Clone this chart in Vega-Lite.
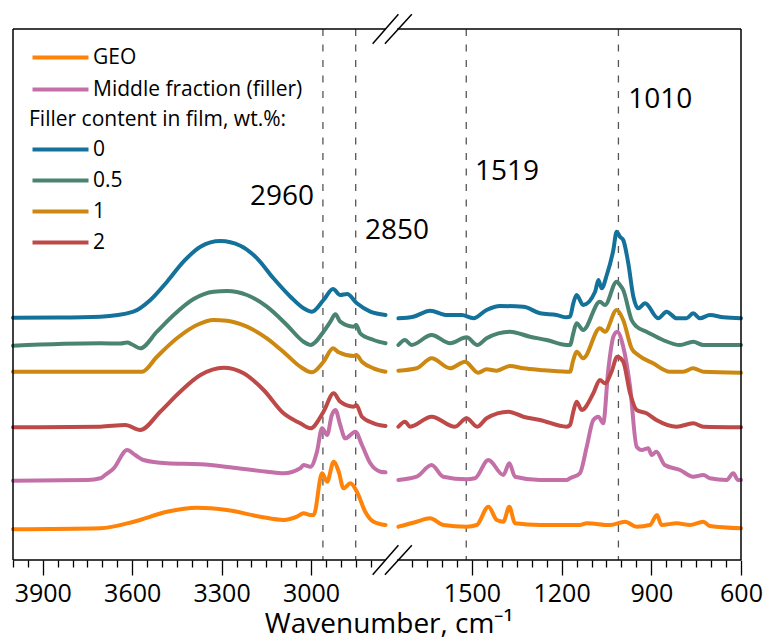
{
  "$schema": "https://vega.github.io/schema/vega-lite/v6.json",
  "width": 728,
  "height": 531,
  "autosize": {"type": "none"},
  "padding": {"left": 13, "top": 29, "right": 23, "bottom": 79},
  "background": "white",
  "config": {"view": {"stroke": null}, "font": "Open Sans"},
  "datasets": {
    "reference": [
      {"s": "GEO", "seg": "L", "wn": 4000, "a": 30.7}, {"s": "GEO", "seg": "L", "wn": 3707, "a": 31.7}, {"s": "GEO", "seg": "L", "wn": 3595, "a": 38.3}, {"s": "GEO", "seg": "L", "wn": 3483, "a": 48.3}, {"s": "GEO", "seg": "L", "wn": 3383, "a": 52.3}, {"s": "GEO", "seg": "L", "wn": 3282, "a": 50}, {"s": "GEO", "seg": "L", "wn": 3170, "a": 43.3}, {"s": "GEO", "seg": "L", "wn": 3092, "a": 40}, {"s": "GEO", "seg": "L", "wn": 3047, "a": 43.3}, {"s": "GEO", "seg": "L", "wn": 3025, "a": 46.7}, {"s": "GEO", "seg": "L", "wn": 3002, "a": 45}, {"s": "GEO", "seg": "L", "wn": 2991, "a": 45}, {"s": "GEO", "seg": "L", "wn": 2963, "a": 86.7}, {"s": "GEO", "seg": "L", "wn": 2946, "a": 78.3}, {"s": "GEO", "seg": "L", "wn": 2924, "a": 98.3}, {"s": "GEO", "seg": "L", "wn": 2907, "a": 88.3}, {"s": "GEO", "seg": "L", "wn": 2891, "a": 71.7}, {"s": "GEO", "seg": "L", "wn": 2868, "a": 76.7}, {"s": "GEO", "seg": "L", "wn": 2846, "a": 68.3}, {"s": "GEO", "seg": "L", "wn": 2818, "a": 48.3}, {"s": "GEO", "seg": "L", "wn": 2790, "a": 38.3}, {"s": "GEO", "seg": "L", "wn": 2750, "a": 35},
      {"s": "GEO", "seg": "R", "wn": 1746, "a": 33.3}, {"s": "GEO", "seg": "R", "wn": 1685, "a": 38.3}, {"s": "GEO", "seg": "R", "wn": 1640, "a": 41.7}, {"s": "GEO", "seg": "R", "wn": 1596, "a": 35}, {"s": "GEO", "seg": "R", "wn": 1518, "a": 33.3}, {"s": "GEO", "seg": "R", "wn": 1484, "a": 35}, {"s": "GEO", "seg": "R", "wn": 1445, "a": 53.3}, {"s": "GEO", "seg": "R", "wn": 1417, "a": 40}, {"s": "GEO", "seg": "R", "wn": 1395, "a": 38.3}, {"s": "GEO", "seg": "R", "wn": 1375, "a": 53.3}, {"s": "GEO", "seg": "R", "wn": 1356, "a": 36.7}, {"s": "GEO", "seg": "R", "wn": 1272, "a": 35}, {"s": "GEO", "seg": "R", "wn": 1139, "a": 35}, {"s": "GEO", "seg": "R", "wn": 1116, "a": 36.7}, {"s": "GEO", "seg": "R", "wn": 1038, "a": 35}, {"s": "GEO", "seg": "R", "wn": 988, "a": 38.3}, {"s": "GEO", "seg": "R", "wn": 949, "a": 33.3}, {"s": "GEO", "seg": "R", "wn": 905, "a": 35}, {"s": "GEO", "seg": "R", "wn": 881, "a": 45}, {"s": "GEO", "seg": "R", "wn": 866, "a": 35}, {"s": "GEO", "seg": "R", "wn": 815, "a": 36.7}, {"s": "GEO", "seg": "R", "wn": 771, "a": 35}, {"s": "GEO", "seg": "R", "wn": 726, "a": 38.3}, {"s": "GEO", "seg": "R", "wn": 704, "a": 34}, {"s": "GEO", "seg": "R", "wn": 600, "a": 31.7},
      {"s": "Middle fraction (filler)", "seg": "L", "wn": 4000, "a": 79.3}, {"s": "Middle fraction (filler)", "seg": "L", "wn": 3750, "a": 80}, {"s": "Middle fraction (filler)", "seg": "L", "wn": 3707, "a": 81.7}, {"s": "Middle fraction (filler)", "seg": "L", "wn": 3691, "a": 85}, {"s": "Middle fraction (filler)", "seg": "L", "wn": 3662, "a": 91.7}, {"s": "Middle fraction (filler)", "seg": "L", "wn": 3617, "a": 110}, {"s": "Middle fraction (filler)", "seg": "L", "wn": 3590, "a": 105}, {"s": "Middle fraction (filler)", "seg": "L", "wn": 3562, "a": 100}, {"s": "Middle fraction (filler)", "seg": "L", "wn": 3483, "a": 96.7}, {"s": "Middle fraction (filler)", "seg": "L", "wn": 3371, "a": 95.7}, {"s": "Middle fraction (filler)", "seg": "L", "wn": 3260, "a": 92.3}, {"s": "Middle fraction (filler)", "seg": "L", "wn": 3148, "a": 88.3}, {"s": "Middle fraction (filler)", "seg": "L", "wn": 3092, "a": 86.7}, {"s": "Middle fraction (filler)", "seg": "L", "wn": 3036, "a": 91.7}, {"s": "Middle fraction (filler)", "seg": "L", "wn": 3025, "a": 95}, {"s": "Middle fraction (filler)", "seg": "L", "wn": 3002, "a": 93.3}, {"s": "Middle fraction (filler)", "seg": "L", "wn": 2980, "a": 108.3}, {"s": "Middle fraction (filler)", "seg": "L", "wn": 2963, "a": 131.7}, {"s": "Middle fraction (filler)", "seg": "L", "wn": 2946, "a": 125}, {"s": "Middle fraction (filler)", "seg": "L", "wn": 2930, "a": 145}, {"s": "Middle fraction (filler)", "seg": "L", "wn": 2918, "a": 150}, {"s": "Middle fraction (filler)", "seg": "L", "wn": 2902, "a": 135}, {"s": "Middle fraction (filler)", "seg": "L", "wn": 2885, "a": 121.7}, {"s": "Middle fraction (filler)", "seg": "L", "wn": 2851, "a": 128.3}, {"s": "Middle fraction (filler)", "seg": "L", "wn": 2829, "a": 115}, {"s": "Middle fraction (filler)", "seg": "L", "wn": 2801, "a": 96.7}, {"s": "Middle fraction (filler)", "seg": "L", "wn": 2767, "a": 88.3}, {"s": "Middle fraction (filler)", "seg": "L", "wn": 2750, "a": 87.7},
      {"s": "Middle fraction (filler)", "seg": "R", "wn": 1746, "a": 80}, {"s": "Middle fraction (filler)", "seg": "R", "wn": 1685, "a": 83.3}, {"s": "Middle fraction (filler)", "seg": "R", "wn": 1635, "a": 95}, {"s": "Middle fraction (filler)", "seg": "R", "wn": 1596, "a": 83.3}, {"s": "Middle fraction (filler)", "seg": "R", "wn": 1518, "a": 80.7}, {"s": "Middle fraction (filler)", "seg": "R", "wn": 1490, "a": 81.7}, {"s": "Middle fraction (filler)", "seg": "R", "wn": 1445, "a": 100}, {"s": "Middle fraction (filler)", "seg": "R", "wn": 1395, "a": 85}, {"s": "Middle fraction (filler)", "seg": "R", "wn": 1375, "a": 96.7}, {"s": "Middle fraction (filler)", "seg": "R", "wn": 1356, "a": 83.3}, {"s": "Middle fraction (filler)", "seg": "R", "wn": 1272, "a": 80}, {"s": "Middle fraction (filler)", "seg": "R", "wn": 1183, "a": 80}, {"s": "Middle fraction (filler)", "seg": "R", "wn": 1172, "a": 81.7}, {"s": "Middle fraction (filler)", "seg": "R", "wn": 1139, "a": 86.7}, {"s": "Middle fraction (filler)", "seg": "R", "wn": 1116, "a": 113.3}, {"s": "Middle fraction (filler)", "seg": "R", "wn": 1094, "a": 140}, {"s": "Middle fraction (filler)", "seg": "R", "wn": 1077, "a": 143.3}, {"s": "Middle fraction (filler)", "seg": "R", "wn": 1061, "a": 136.7}, {"s": "Middle fraction (filler)", "seg": "R", "wn": 1044, "a": 190}, {"s": "Middle fraction (filler)", "seg": "R", "wn": 1027, "a": 223.3}, {"s": "Middle fraction (filler)", "seg": "R", "wn": 1014, "a": 228.3}, {"s": "Middle fraction (filler)", "seg": "R", "wn": 994, "a": 213.3}, {"s": "Middle fraction (filler)", "seg": "R", "wn": 971, "a": 173.3}, {"s": "Middle fraction (filler)", "seg": "R", "wn": 949, "a": 113.3}, {"s": "Middle fraction (filler)", "seg": "R", "wn": 932, "a": 110}, {"s": "Middle fraction (filler)", "seg": "R", "wn": 910, "a": 111.7}, {"s": "Middle fraction (filler)", "seg": "R", "wn": 899, "a": 105}, {"s": "Middle fraction (filler)", "seg": "R", "wn": 883, "a": 108.3}, {"s": "Middle fraction (filler)", "seg": "R", "wn": 855, "a": 95}, {"s": "Middle fraction (filler)", "seg": "R", "wn": 804, "a": 90}, {"s": "Middle fraction (filler)", "seg": "R", "wn": 760, "a": 83.3}, {"s": "Middle fraction (filler)", "seg": "R", "wn": 726, "a": 85}, {"s": "Middle fraction (filler)", "seg": "R", "wn": 704, "a": 81.7}, {"s": "Middle fraction (filler)", "seg": "R", "wn": 648, "a": 80}, {"s": "Middle fraction (filler)", "seg": "R", "wn": 626, "a": 86.7}, {"s": "Middle fraction (filler)", "seg": "R", "wn": 610, "a": 80}, {"s": "Middle fraction (filler)", "seg": "R", "wn": 600, "a": 80}
    ],
    "films": [
      {"content": "0", "seg": "L", "wn": 4000, "a": 242.3}, {"content": "0", "seg": "L", "wn": 3850, "a": 242.5}, {"content": "0", "seg": "L", "wn": 3707, "a": 243.3}, {"content": "0", "seg": "L", "wn": 3596, "a": 248.3}, {"content": "0", "seg": "L", "wn": 3539, "a": 260}, {"content": "0", "seg": "L", "wn": 3483, "a": 278.3}, {"content": "0", "seg": "L", "wn": 3428, "a": 298.3}, {"content": "0", "seg": "L", "wn": 3371, "a": 313.3}, {"content": "0", "seg": "L", "wn": 3304, "a": 319}, {"content": "0", "seg": "L", "wn": 3237, "a": 314.3}, {"content": "0", "seg": "L", "wn": 3181, "a": 301.7}, {"content": "0", "seg": "L", "wn": 3126, "a": 281.7}, {"content": "0", "seg": "L", "wn": 3069, "a": 263.3}, {"content": "0", "seg": "L", "wn": 3025, "a": 251.7}, {"content": "0", "seg": "L", "wn": 2997, "a": 248.3}, {"content": "0", "seg": "L", "wn": 2958, "a": 260}, {"content": "0", "seg": "L", "wn": 2926, "a": 271}, {"content": "0", "seg": "L", "wn": 2902, "a": 265}, {"content": "0", "seg": "L", "wn": 2879, "a": 266}, {"content": "0", "seg": "L", "wn": 2846, "a": 256.7}, {"content": "0", "seg": "L", "wn": 2801, "a": 248.3}, {"content": "0", "seg": "L", "wn": 2750, "a": 245},
      {"content": "0", "seg": "R", "wn": 1746, "a": 241.7}, {"content": "0", "seg": "R", "wn": 1696, "a": 243.3}, {"content": "0", "seg": "R", "wn": 1640, "a": 249.3}, {"content": "0", "seg": "R", "wn": 1584, "a": 245}, {"content": "0", "seg": "R", "wn": 1534, "a": 245}, {"content": "0", "seg": "R", "wn": 1495, "a": 241.7}, {"content": "0", "seg": "R", "wn": 1451, "a": 250}, {"content": "0", "seg": "R", "wn": 1406, "a": 254}, {"content": "0", "seg": "R", "wn": 1328, "a": 253.3}, {"content": "0", "seg": "R", "wn": 1272, "a": 246.7}, {"content": "0", "seg": "R", "wn": 1217, "a": 245}, {"content": "0", "seg": "R", "wn": 1183, "a": 242.7}, {"content": "0", "seg": "R", "wn": 1172, "a": 243.3}, {"content": "0", "seg": "R", "wn": 1161, "a": 256.7}, {"content": "0", "seg": "R", "wn": 1150, "a": 265}, {"content": "0", "seg": "R", "wn": 1128, "a": 255}, {"content": "0", "seg": "R", "wn": 1088, "a": 268.3}, {"content": "0", "seg": "R", "wn": 1077, "a": 280}, {"content": "0", "seg": "R", "wn": 1066, "a": 271.7}, {"content": "0", "seg": "R", "wn": 1049, "a": 285}, {"content": "0", "seg": "R", "wn": 1027, "a": 310}, {"content": "0", "seg": "R", "wn": 1016, "a": 328.3}, {"content": "0", "seg": "R", "wn": 1005, "a": 323.3}, {"content": "0", "seg": "R", "wn": 994, "a": 320}, {"content": "0", "seg": "R", "wn": 977, "a": 296.7}, {"content": "0", "seg": "R", "wn": 960, "a": 263.3}, {"content": "0", "seg": "R", "wn": 944, "a": 251.7}, {"content": "0", "seg": "R", "wn": 921, "a": 256.7}, {"content": "0", "seg": "R", "wn": 877, "a": 241.7}, {"content": "0", "seg": "R", "wn": 849, "a": 248.3}, {"content": "0", "seg": "R", "wn": 815, "a": 241.7}, {"content": "0", "seg": "R", "wn": 782, "a": 241.7}, {"content": "0", "seg": "R", "wn": 760, "a": 246.7}, {"content": "0", "seg": "R", "wn": 737, "a": 241.7}, {"content": "0", "seg": "R", "wn": 704, "a": 245}, {"content": "0", "seg": "R", "wn": 659, "a": 242.7}, {"content": "0", "seg": "R", "wn": 600, "a": 241.7},
      {"content": "0.5", "seg": "L", "wn": 4000, "a": 214.3}, {"content": "0.5", "seg": "L", "wn": 3707, "a": 216.7}, {"content": "0.5", "seg": "L", "wn": 3640, "a": 216.5}, {"content": "0.5", "seg": "L", "wn": 3617, "a": 217.5}, {"content": "0.5", "seg": "L", "wn": 3600, "a": 215.5}, {"content": "0.5", "seg": "L", "wn": 3573, "a": 211.7}, {"content": "0.5", "seg": "L", "wn": 3517, "a": 228.3}, {"content": "0.5", "seg": "L", "wn": 3461, "a": 245}, {"content": "0.5", "seg": "L", "wn": 3394, "a": 261}, {"content": "0.5", "seg": "L", "wn": 3327, "a": 268.3}, {"content": "0.5", "seg": "L", "wn": 3282, "a": 269}, {"content": "0.5", "seg": "L", "wn": 3215, "a": 265}, {"content": "0.5", "seg": "L", "wn": 3148, "a": 253.3}, {"content": "0.5", "seg": "L", "wn": 3081, "a": 235}, {"content": "0.5", "seg": "L", "wn": 3025, "a": 218.3}, {"content": "0.5", "seg": "L", "wn": 3002, "a": 215}, {"content": "0.5", "seg": "L", "wn": 2958, "a": 228.3}, {"content": "0.5", "seg": "L", "wn": 2935, "a": 238.3}, {"content": "0.5", "seg": "L", "wn": 2918, "a": 245.7}, {"content": "0.5", "seg": "L", "wn": 2902, "a": 238.3}, {"content": "0.5", "seg": "L", "wn": 2857, "a": 233.3}, {"content": "0.5", "seg": "L", "wn": 2848, "a": 235}, {"content": "0.5", "seg": "L", "wn": 2835, "a": 226.7}, {"content": "0.5", "seg": "L", "wn": 2790, "a": 220}, {"content": "0.5", "seg": "L", "wn": 2750, "a": 216.7},
      {"content": "0.5", "seg": "R", "wn": 1746, "a": 215}, {"content": "0.5", "seg": "R", "wn": 1724, "a": 220}, {"content": "0.5", "seg": "R", "wn": 1702, "a": 215}, {"content": "0.5", "seg": "R", "wn": 1635, "a": 225}, {"content": "0.5", "seg": "R", "wn": 1573, "a": 216.7}, {"content": "0.5", "seg": "R", "wn": 1518, "a": 222.7}, {"content": "0.5", "seg": "R", "wn": 1482, "a": 215}, {"content": "0.5", "seg": "R", "wn": 1451, "a": 221.7}, {"content": "0.5", "seg": "R", "wn": 1373, "a": 228.3}, {"content": "0.5", "seg": "R", "wn": 1306, "a": 223.3}, {"content": "0.5", "seg": "R", "wn": 1250, "a": 220}, {"content": "0.5", "seg": "R", "wn": 1183, "a": 215}, {"content": "0.5", "seg": "R", "wn": 1172, "a": 215}, {"content": "0.5", "seg": "R", "wn": 1161, "a": 226.7}, {"content": "0.5", "seg": "R", "wn": 1150, "a": 236.7}, {"content": "0.5", "seg": "R", "wn": 1128, "a": 230}, {"content": "0.5", "seg": "R", "wn": 1072, "a": 258.3}, {"content": "0.5", "seg": "R", "wn": 1055, "a": 255}, {"content": "0.5", "seg": "R", "wn": 1016, "a": 278.3}, {"content": "0.5", "seg": "R", "wn": 1005, "a": 275}, {"content": "0.5", "seg": "R", "wn": 994, "a": 270}, {"content": "0.5", "seg": "R", "wn": 966, "a": 240}, {"content": "0.5", "seg": "R", "wn": 949, "a": 233.3}, {"content": "0.5", "seg": "R", "wn": 916, "a": 228.3}, {"content": "0.5", "seg": "R", "wn": 861, "a": 220}, {"content": "0.5", "seg": "R", "wn": 804, "a": 215}, {"content": "0.5", "seg": "R", "wn": 760, "a": 218.3}, {"content": "0.5", "seg": "R", "wn": 726, "a": 215}, {"content": "0.5", "seg": "R", "wn": 600, "a": 215},
      {"content": "1", "seg": "L", "wn": 4000, "a": 188.3}, {"content": "1", "seg": "L", "wn": 3707, "a": 188.3}, {"content": "1", "seg": "L", "wn": 3567, "a": 188.3}, {"content": "1", "seg": "L", "wn": 3517, "a": 203.3}, {"content": "1", "seg": "L", "wn": 3450, "a": 221.7}, {"content": "1", "seg": "L", "wn": 3383, "a": 235}, {"content": "1", "seg": "L", "wn": 3327, "a": 240}, {"content": "1", "seg": "L", "wn": 3282, "a": 239.3}, {"content": "1", "seg": "L", "wn": 3215, "a": 233.3}, {"content": "1", "seg": "L", "wn": 3148, "a": 221.7}, {"content": "1", "seg": "L", "wn": 3081, "a": 205}, {"content": "1", "seg": "L", "wn": 3036, "a": 193.3}, {"content": "1", "seg": "L", "wn": 2997, "a": 187.7}, {"content": "1", "seg": "L", "wn": 2958, "a": 198.3}, {"content": "1", "seg": "L", "wn": 2926, "a": 211.7}, {"content": "1", "seg": "L", "wn": 2907, "a": 207.7}, {"content": "1", "seg": "L", "wn": 2857, "a": 204}, {"content": "1", "seg": "L", "wn": 2848, "a": 205}, {"content": "1", "seg": "L", "wn": 2829, "a": 198.3}, {"content": "1", "seg": "L", "wn": 2790, "a": 191.7}, {"content": "1", "seg": "L", "wn": 2750, "a": 188.3},
      {"content": "1", "seg": "R", "wn": 1746, "a": 189.3}, {"content": "1", "seg": "R", "wn": 1685, "a": 191.7}, {"content": "1", "seg": "R", "wn": 1635, "a": 201.7}, {"content": "1", "seg": "R", "wn": 1573, "a": 191.7}, {"content": "1", "seg": "R", "wn": 1523, "a": 198.3}, {"content": "1", "seg": "R", "wn": 1479, "a": 187.3}, {"content": "1", "seg": "R", "wn": 1451, "a": 190.7}, {"content": "1", "seg": "R", "wn": 1417, "a": 189.3}, {"content": "1", "seg": "R", "wn": 1373, "a": 194}, {"content": "1", "seg": "R", "wn": 1328, "a": 191.7}, {"content": "1", "seg": "R", "wn": 1272, "a": 190}, {"content": "1", "seg": "R", "wn": 1183, "a": 188.3}, {"content": "1", "seg": "R", "wn": 1172, "a": 188.3}, {"content": "1", "seg": "R", "wn": 1161, "a": 200}, {"content": "1", "seg": "R", "wn": 1150, "a": 208.3}, {"content": "1", "seg": "R", "wn": 1128, "a": 201.7}, {"content": "1", "seg": "R", "wn": 1072, "a": 231.7}, {"content": "1", "seg": "R", "wn": 1055, "a": 228.3}, {"content": "1", "seg": "R", "wn": 1016, "a": 250}, {"content": "1", "seg": "R", "wn": 994, "a": 240}, {"content": "1", "seg": "R", "wn": 966, "a": 211.7}, {"content": "1", "seg": "R", "wn": 944, "a": 205}, {"content": "1", "seg": "R", "wn": 894, "a": 196.7}, {"content": "1", "seg": "R", "wn": 838, "a": 188.3}, {"content": "1", "seg": "R", "wn": 793, "a": 188.3}, {"content": "1", "seg": "R", "wn": 760, "a": 191.7}, {"content": "1", "seg": "R", "wn": 726, "a": 188.3}, {"content": "1", "seg": "R", "wn": 600, "a": 187.3},
      {"content": "2", "seg": "L", "wn": 4000, "a": 132.7}, {"content": "2", "seg": "L", "wn": 3707, "a": 133.3}, {"content": "2", "seg": "L", "wn": 3623, "a": 135}, {"content": "2", "seg": "L", "wn": 3573, "a": 130}, {"content": "2", "seg": "L", "wn": 3506, "a": 148.3}, {"content": "2", "seg": "L", "wn": 3439, "a": 168.3}, {"content": "2", "seg": "L", "wn": 3371, "a": 185}, {"content": "2", "seg": "L", "wn": 3293, "a": 192.3}, {"content": "2", "seg": "L", "wn": 3226, "a": 186.7}, {"content": "2", "seg": "L", "wn": 3159, "a": 170}, {"content": "2", "seg": "L", "wn": 3092, "a": 146.7}, {"content": "2", "seg": "L", "wn": 3036, "a": 136.7}, {"content": "2", "seg": "L", "wn": 3002, "a": 131.7}, {"content": "2", "seg": "L", "wn": 2958, "a": 148.3}, {"content": "2", "seg": "L", "wn": 2924, "a": 166.7}, {"content": "2", "seg": "L", "wn": 2902, "a": 158.3}, {"content": "2", "seg": "L", "wn": 2857, "a": 153.3}, {"content": "2", "seg": "L", "wn": 2848, "a": 155}, {"content": "2", "seg": "L", "wn": 2829, "a": 143.3}, {"content": "2", "seg": "L", "wn": 2790, "a": 136.7}, {"content": "2", "seg": "L", "wn": 2750, "a": 134},
      {"content": "2", "seg": "R", "wn": 1746, "a": 133.3}, {"content": "2", "seg": "R", "wn": 1724, "a": 138.3}, {"content": "2", "seg": "R", "wn": 1707, "a": 133.3}, {"content": "2", "seg": "R", "wn": 1635, "a": 143.3}, {"content": "2", "seg": "R", "wn": 1557, "a": 133.3}, {"content": "2", "seg": "R", "wn": 1518, "a": 141.7}, {"content": "2", "seg": "R", "wn": 1482, "a": 133.3}, {"content": "2", "seg": "R", "wn": 1451, "a": 141.7}, {"content": "2", "seg": "R", "wn": 1378, "a": 148.3}, {"content": "2", "seg": "R", "wn": 1328, "a": 143.3}, {"content": "2", "seg": "R", "wn": 1272, "a": 140}, {"content": "2", "seg": "R", "wn": 1183, "a": 133.3}, {"content": "2", "seg": "R", "wn": 1172, "a": 135}, {"content": "2", "seg": "R", "wn": 1161, "a": 148.3}, {"content": "2", "seg": "R", "wn": 1150, "a": 158.3}, {"content": "2", "seg": "R", "wn": 1133, "a": 150}, {"content": "2", "seg": "R", "wn": 1094, "a": 166.7}, {"content": "2", "seg": "R", "wn": 1072, "a": 180}, {"content": "2", "seg": "R", "wn": 1055, "a": 176.7}, {"content": "2", "seg": "R", "wn": 1033, "a": 188.3}, {"content": "2", "seg": "R", "wn": 1014, "a": 203.3}, {"content": "2", "seg": "R", "wn": 994, "a": 198.3}, {"content": "2", "seg": "R", "wn": 971, "a": 166.7}, {"content": "2", "seg": "R", "wn": 949, "a": 150}, {"content": "2", "seg": "R", "wn": 916, "a": 146.7}, {"content": "2", "seg": "R", "wn": 883, "a": 140}, {"content": "2", "seg": "R", "wn": 815, "a": 133.3}, {"content": "2", "seg": "R", "wn": 760, "a": 136.7}, {"content": "2", "seg": "R", "wn": 726, "a": 133.3}, {"content": "2", "seg": "R", "wn": 600, "a": 132.7}
    ]
  },
  "encoding": {
    "x": {
      "field": "wn", "type": "quantitative",
      "scale": {"domain": [4000, 2750, 1750, 600], "range": [0, 372.5, 384.2, 728], "nice": false, "zero": false},
      "axis": {
        "values": [4000, 3950, 3900, 3850, 3800, 3750, 3700, 3650, 3600, 3550, 3500, 3450, 3400, 3350, 3300, 3250, 3200, 3150, 3100, 3050, 3000, 2950, 2900, 2850, 2800, 1700, 1650, 1600, 1550, 1500, 1450, 1400, 1350, 1300, 1250, 1200, 1150, 1100, 1050, 1000, 950, 900, 850, 800, 750, 700, 650, 600],
        "format": "d",
        "labelExpr": "datum.value % 300 === 0 ? datum.label : ''",
        "title": "Wavenumber, cm⁻¹",
        "titleFont": "Open Sans", "titleFontSize": 28, "titleFontWeight": "normal", "titleColor": "black",
        "titleX": 375.5, "titleY": 72, "titleBaseline": "alphabetic", "titleAlign": "center",
        "domain": false, "grid": false,
        "tickColor": "black", "tickWidth": 1.3,
        "tickSize": {"condition": {"test": "datum.value % 300 === 0", "value": 15}, "value": 7},
        "labelFont": "Open Sans", "labelFontSize": 25, "labelColor": "black", "labelPadding": 6,
        "labelFlush": false, "labelOverlap": false
      }
    }
  },
  "layer": [
    {
      "data": {"values": [{"wn": 2960}, {"wn": 2850}, {"wn": 1519}, {"wn": 1010}]},
      "mark": {"type": "rule", "color": "#555555", "strokeWidth": 1.3, "strokeDash": [7, 8.5]}
    },
    {
      "data": {"name": "reference"},
      "mark": {"type": "line", "strokeWidth": 4, "interpolate": "monotone", "strokeCap": "round", "strokeJoin": "round"},
      "encoding": {
        "y": {"field": "a", "type": "quantitative", "scale": {"domain": [0, 531], "nice": false, "zero": false}, "axis": null},
        "detail": {"field": "seg"},
        "stroke": {
          "field": "s", "type": "nominal",
          "scale": {"domain": ["GEO", "Middle fraction (filler)"], "range": ["#FF8209", "#C370A9"]},
          "legend": {
            "title": null, "orient": "none", "legendX": 16, "legendY": 18, "padding": 0,
            "symbolType": "M-1,0H7", "symbolSize": 196, "symbolStrokeWidth": 4, "symbolOpacity": 1,
            "labelFont": "Open Sans", "labelFontSize": 21, "labelColor": "black", "labelOffset": 43, "labelLimit": 400,
            "rowPadding": 10
          }
        }
      }
    },
    {
      "data": {"name": "films"},
      "mark": {"type": "line", "strokeWidth": 4, "interpolate": "monotone", "strokeCap": "round", "strokeJoin": "round"},
      "encoding": {
        "y": {"field": "a", "type": "quantitative", "scale": {"domain": [0, 531], "nice": false, "zero": false}, "axis": null},
        "detail": {"field": "seg"},
        "color": {
          "field": "content", "type": "nominal",
          "scale": {"domain": ["0", "0.5", "1", "2"], "range": ["#14729A", "#4A8372", "#CC8810", "#BE4949"]},
          "legend": {
            "title": "Filler content in film, wt.%:", "titleFont": "Open Sans", "titleFontSize": 21, "titleFontWeight": "normal", "titleColor": "black", "titlePadding": 9, "titleLimit": 500,
            "orient": "none", "legendX": 16, "legendY": 80, "padding": 0,
            "symbolType": "M-1,0H7", "symbolSize": 196, "symbolStrokeWidth": 4, "symbolOpacity": 1,
            "labelFont": "Open Sans", "labelFontSize": 21, "labelColor": "black", "labelOffset": 43, "labelLimit": 400,
            "rowPadding": 9
          }
        }
      }
    },
    {
      "data": {"values": [{"wn": 3205, "a": 363.5, "label": "2960"}, {"wn": 2819, "a": 329.5, "label": "2850"}, {"wn": 1490, "a": 388.3, "label": "1519"}, {"wn": 977, "a": 460, "label": "1010"}]},
      "mark": {"type": "text", "align": "left", "baseline": "middle", "font": "Open Sans", "fontSize": 28, "color": "black"},
      "encoding": {
        "y": {"field": "a", "type": "quantitative", "scale": {"domain": [0, 531], "nice": false, "zero": false}, "axis": null},
        "text": {"field": "label"}
      }
    },
    {
      "data": {"values": [{"wn": 4000}, {"wn": 600}]},
      "mark": {"type": "rule", "color": "black", "strokeWidth": 1.5}
    },
    {
      "data": {"values": [{"wn": 4000, "wn2": 2750, "a": 0}, {"wn": 4000, "wn2": 2750, "a": 531}, {"wn": 1750, "wn2": 600, "a": 0}, {"wn": 1750, "wn2": 600, "a": 531}]},
      "mark": {"type": "rule", "color": "black", "strokeWidth": 1.5},
      "encoding": {
        "x2": {"field": "wn2"},
        "y": {"field": "a", "type": "quantitative", "scale": {"domain": [0, 531], "nice": false, "zero": false}, "axis": null}
      }
    },
    {
      "data": {"values": [{"wn": 2793, "wn2": 1746, "a": -14.7, "a2": 14.7}, {"wn": 2752, "wn2": 1701, "a": -14.7, "a2": 14.7}, {"wn": 2793, "wn2": 1746, "a": 516.3, "a2": 545.7}, {"wn": 2752, "wn2": 1701, "a": 516.3, "a2": 545.7}]},
      "mark": {"type": "rule", "color": "black", "strokeWidth": 1.5},
      "encoding": {
        "x2": {"field": "wn2"},
        "y": {"field": "a", "type": "quantitative", "scale": {"domain": [0, 531], "nice": false, "zero": false}, "axis": null},
        "y2": {"field": "a2"}
      }
    }
  ]
}
